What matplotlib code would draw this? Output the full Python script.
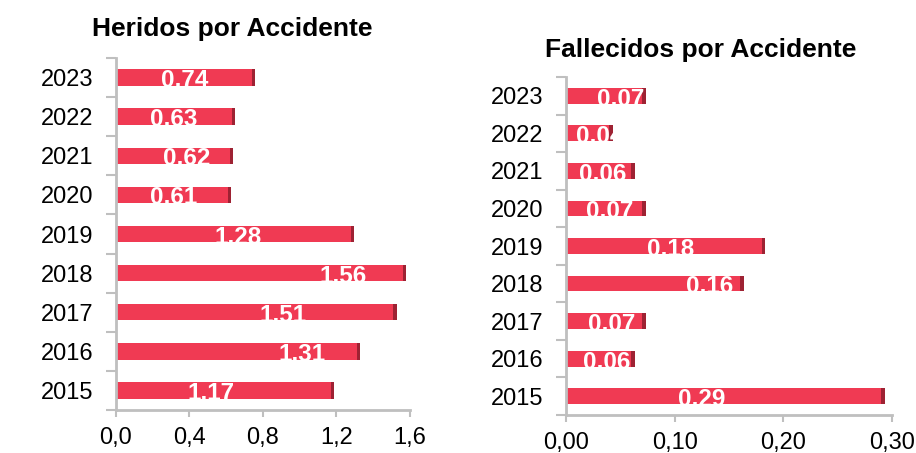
import matplotlib
matplotlib.use("Agg")
import matplotlib.pyplot as plt

plt.rcParams['font.family'] = ['Liberation Sans', 'DejaVu Sans']

years = ['2015', '2016', '2017', '2018', '2019', '2020', '2021', '2022', '2023']

heridos = [1.17, 1.31, 1.51, 1.56, 1.28, 0.61, 0.62, 0.63, 0.74]
heridos_lbl = ['1,17', '1,31', '1,51', '1,56', '1,28', '0,61', '0,62', '0,63', '0,74']
heridos_ticks = [0.0, 0.4, 0.8, 1.2, 1.6]
heridos_ticklbl = ['0,0', '0,4', '0,8', '1,2', '1,6']

fallecidos = [0.29, 0.06, 0.07, 0.16, 0.18, 0.07, 0.06, 0.04, 0.07]
fallecidos_lbl = ['0,29', '0,06', '0,07', '0,16', '0,18', '0,07', '0,06', '0,04', '0,07']
fallecidos_ticks = [0.0, 0.1, 0.2, 0.3]
fallecidos_ticklbl = ['0,00', '0,10', '0,20', '0,30']

# label x positions (labels were moved by hand in the original)
heridos_lblx = [0.52, 1.01, 0.91, 1.235, 0.665, 0.316, 0.385, 0.314, 0.376]
fallecidos_lblx = [0.125, 0.037, 0.042, 0.1325, 0.096, 0.0405, 0.034, 0.031, 0.050]

RED = '#F03A53'
DARK = '#9E2233'
GRAY = '#BFBFBF'

fig = plt.figure(figsize=(9.16, 4.53), dpi=100)


def panel(rect, vals, lbls, lblx, ticks, ticklbl, xmax, title, tx, ty, xpad):
    ax = fig.add_axes(rect)
    ys = list(range(len(years)))
    side = xmax * 0.011
    ax.barh(ys, vals, height=0.42, color=RED, edgecolor='none', zorder=2)
    ax.barh(ys, [side] * len(vals), left=vals, height=0.42, color=DARK,
            edgecolor='none', zorder=2)
    for y, v, s, lx in zip(ys, vals, lbls, lblx):
        ax.text(lx, y + 0.23, s, color='white', fontsize=17.5, fontweight='bold',
                ha='center', va='top', zorder=3)
    ax.set_xlim(0, xmax)
    ax.set_ylim(-0.5, len(years) - 0.5)
    ax.set_xticks(ticks)
    ax.set_xticklabels(ticklbl, fontsize=17)
    ax.set_yticks(ys)
    ax.set_yticklabels(years, fontsize=17)
    ax.set_yticks([i - 0.5 for i in range(len(years) + 1)], minor=True)
    ax.tick_params(axis='y', which='major', length=0, pad=16)
    ax.tick_params(axis='y', which='minor', length=7, width=1.5, color=GRAY)
    ax.tick_params(axis='x', length=5, width=1.5, color=GRAY, pad=xpad)
    for s in ['top', 'right']:
        ax.spines[s].set_visible(False)
    for s in ['left', 'bottom']:
        ax.spines[s].set_color(GRAY)
        ax.spines[s].set_linewidth(2)
    fig.text(tx, ty, title, fontsize=19, fontweight='bold', ha='center', va='center')
    return ax


panel([0.1266, 0.0949, 0.321, 0.777], heridos, heridos_lbl, heridos_lblx,
      heridos_ticks, heridos_ticklbl, 1.6, 'Heridos por Accidente', 0.2533, 0.937, 7)
panel([0.6179, 0.0839, 0.356, 0.746], fallecidos, fallecidos_lbl, fallecidos_lblx,
      fallecidos_ticks, fallecidos_ticklbl, 0.30, 'Fallecidos por Accidente', 0.765, 0.889, 7.5)

fig.savefig('out.png', dpi=100)
